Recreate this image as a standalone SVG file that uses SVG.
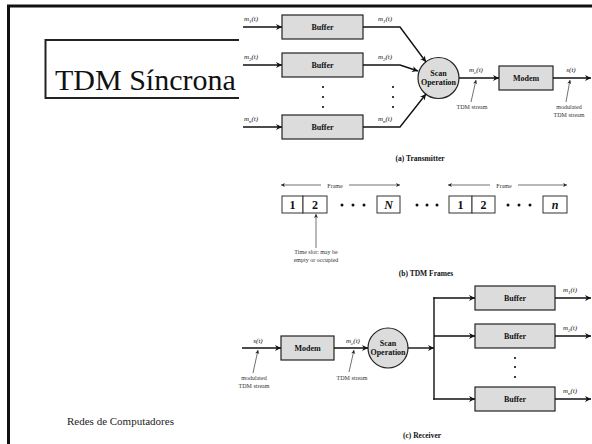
<svg xmlns="http://www.w3.org/2000/svg" width="592" height="444" viewBox="0 0 592 444">
<defs>
<marker id="ah" viewBox="0 0 10 10" refX="10" refY="5" markerWidth="8" markerHeight="6" markerUnits="userSpaceOnUse" orient="auto">
<path d="M0,0 L10,5 L0,10 L3,5 z" fill="#111"/>
</marker>
<marker id="ahs" viewBox="0 0 10 10" refX="10" refY="5" markerWidth="5" markerHeight="4" markerUnits="userSpaceOnUse" orient="auto-start-reverse">
<path d="M0,0 L10,5 L0,10 L3,5 z" fill="#222"/>
</marker>
</defs>
<style>
.box{fill:#dcdcdc;stroke:#222;stroke-width:1.2}
.slot{fill:#fff;stroke:#333;stroke-width:1}
.ln{fill:none;stroke:#111;stroke-width:1.4}
.arr{fill:none;stroke:#111;stroke-width:1.4;marker-end:url(#ah)}
.thin{fill:none;stroke:#333;stroke-width:0.7;marker-end:url(#ahs)}
.dbl{fill:none;stroke:#333;stroke-width:0.7}
.lbl{font-family:"Liberation Serif",serif;font-size:8px;font-weight:bold;fill:#111;text-anchor:middle}
.sig{font-family:"Liberation Serif",serif;font-size:7px;font-style:italic;fill:#111;text-anchor:middle}
.sm{font-family:"Liberation Serif",serif;font-size:6px;fill:#333;text-anchor:middle}
.cap{font-family:"Liberation Serif",serif;font-size:7.5px;font-weight:bold;fill:#111;text-anchor:middle}
.dig{font-family:"Liberation Serif",serif;font-size:12px;font-weight:bold;fill:#111;text-anchor:middle}
.dot{fill:#111}
</style>
<rect width="592" height="444" fill="#fff"/>
<!-- slide frame -->
<path d="M592,6 H8.5 V444" fill="none" stroke="#111" stroke-width="3"/>
<g id="title">
<path d="M239,40 H45.5 V98 H239" fill="none" stroke="#222" stroke-width="2"/>
<text x="55" y="90" font-family="Liberation Serif,serif" font-size="30" fill="#111">TDM Síncrona</text>
</g>
<text id="footer" x="67" y="425" font-family="Liberation Serif,serif" font-size="11" fill="#222">Redes de Computadores</text>

<!-- (a) Transmitter -->
<g id="tx-buffer1"><rect class="box" x="282" y="15" width="81" height="24"/><text class="lbl" x="322.5" y="30">Buffer</text></g>
<g id="tx-buffer2"><rect class="box" x="282" y="53" width="81" height="24"/><text class="lbl" x="322.5" y="68">Buffer</text></g>
<g id="tx-buffern"><rect class="box" x="282" y="115" width="81" height="24"/><text class="lbl" x="322.5" y="130">Buffer</text></g>
<g id="tx-scan"><circle cx="438.5" cy="78" r="20.5" fill="#dcdcdc" stroke="#222" stroke-width="1.2"/><text class="lbl" x="438.5" y="76">Scan</text><text class="lbl" x="438.5" y="85">Operation</text></g>
<g id="tx-modem"><rect class="box" x="499" y="66" width="54" height="24"/><text class="lbl" x="526" y="81">Modem</text></g>
<g id="tx-dots">
<circle class="dot" cx="323" cy="87" r="1.1"/><circle class="dot" cx="323" cy="97" r="1.1"/><circle class="dot" cx="323" cy="107" r="1.1"/>
<circle class="dot" cx="393" cy="87" r="1.1"/><circle class="dot" cx="393" cy="97" r="1.1"/><circle class="dot" cx="393" cy="107" r="1.1"/>
</g>
<g id="tx-connectors">
<line class="arr" x1="243" y1="27" x2="282" y2="27"/>
<line class="arr" x1="243" y1="65" x2="282" y2="65"/>
<line class="arr" x1="243" y1="127" x2="282" y2="127"/>
<polyline class="arr" points="363,27 400,27 426,62"/>
<polyline class="arr" points="363,65 400,65 418,71"/>
<polyline class="arr" points="363,127 400,127 426,94"/>
<line class="arr" x1="459" y1="78" x2="499" y2="78"/>
<line class="arr" x1="553" y1="78" x2="591" y2="78"/>
<line class="thin" x1="471" y1="102" x2="476" y2="80"/>
<line class="thin" x1="566" y1="102" x2="570" y2="80"/>
</g>
<g id="tx-labels">
<text class="sig" x="251" y="21">m<tspan font-size="5" dy="1.5">1</tspan><tspan dy="-1.5">(t)</tspan></text>
<text class="sig" x="251" y="59">m<tspan font-size="5" dy="1.5">2</tspan><tspan dy="-1.5">(t)</tspan></text>
<text class="sig" x="251" y="121">m<tspan font-size="5" dy="1.5">n</tspan><tspan dy="-1.5">(t)</tspan></text>
<text class="sig" x="385" y="21">m<tspan font-size="5" dy="1.5">1</tspan><tspan dy="-1.5">(t)</tspan></text>
<text class="sig" x="385" y="59">m<tspan font-size="5" dy="1.5">2</tspan><tspan dy="-1.5">(t)</tspan></text>
<text class="sig" x="385" y="121">m<tspan font-size="5" dy="1.5">n</tspan><tspan dy="-1.5">(t)</tspan></text>
<text class="sig" x="476" y="72">m<tspan font-size="5" dy="1.5">c</tspan><tspan dy="-1.5">(t)</tspan></text>
<text class="sig" x="571" y="72">s(t)</text>
<text class="sm" x="472" y="109">TDM stream</text>
<text class="sm" x="569" y="109">modulated</text>
<text class="sm" x="569" y="117">TDM stream</text>
<text class="cap" x="420" y="161">(a) Transmitter</text>
</g>

<!-- (b) TDM Frames -->
<g id="frames">
<line class="dbl" x1="281" y1="185" x2="321" y2="185" marker-start="url(#ahs)"/>
<line class="dbl" x1="349" y1="185" x2="400" y2="185" marker-end="url(#ahs)"/>
<text class="sm" x="335" y="187.5" font-size="7">Frame</text>
<line class="dbl" x1="448" y1="185" x2="490" y2="185" marker-start="url(#ahs)"/>
<line class="dbl" x1="518" y1="185" x2="567" y2="185" marker-end="url(#ahs)"/>
<text class="sm" x="504" y="187.5" font-size="7">Frame</text>
<rect class="slot" x="282" y="196" width="21" height="17"/><text class="dig" x="292.5" y="209">1</text>
<rect class="slot" x="303" y="196" width="24" height="17"/><text class="dig" x="315" y="209">2</text>
<rect class="slot" x="377" y="196" width="23" height="17"/><text class="dig" x="388.5" y="209" font-style="italic">N</text>
<rect class="slot" x="449" y="196" width="23" height="17"/><text class="dig" x="460.5" y="209">1</text>
<rect class="slot" x="472" y="196" width="23" height="17"/><text class="dig" x="483.5" y="209">2</text>
<rect class="slot" x="543" y="196" width="24" height="17"/><text class="dig" x="555" y="209" font-style="italic">n</text>
<circle class="dot" cx="342" cy="205" r="1.5"/><circle class="dot" cx="353" cy="205" r="1.5"/><circle class="dot" cx="364" cy="205" r="1.5"/>
<circle class="dot" cx="417" cy="205" r="1.5"/><circle class="dot" cx="427" cy="205" r="1.5"/><circle class="dot" cx="437" cy="205" r="1.5"/>
<circle class="dot" cx="508" cy="205" r="1.5"/><circle class="dot" cx="519" cy="205" r="1.5"/><circle class="dot" cx="530" cy="205" r="1.5"/>
<line class="thin" x1="316" y1="248" x2="316" y2="214"/>
<text class="sm" x="316" y="254">Time slot: may be</text>
<text class="sm" x="316" y="262">empty or occupied</text>
<text class="cap" x="426" y="276">(b) TDM Frames</text>
</g>

<!-- (c) Receiver -->
<g id="rx-modem"><rect class="box" x="281" y="336" width="53" height="24"/><text class="lbl" x="307.5" y="351">Modem</text></g>
<g id="rx-scan"><circle cx="388" cy="348" r="20" fill="#dcdcdc" stroke="#222" stroke-width="1.2"/><text class="lbl" x="388" y="346">Scan</text><text class="lbl" x="388" y="355">Operation</text></g>
<g id="rx-buffer1"><rect class="box" x="475" y="286" width="80" height="24"/><text class="lbl" x="515" y="301">Buffer</text></g>
<g id="rx-buffer2"><rect class="box" x="475" y="324" width="80" height="24"/><text class="lbl" x="515" y="339">Buffer</text></g>
<g id="rx-buffern"><rect class="box" x="475" y="387" width="80" height="24"/><text class="lbl" x="515" y="402">Buffer</text></g>
<g id="rx-dots"><circle class="dot" cx="515" cy="358" r="1.1"/><circle class="dot" cx="515" cy="367" r="1.1"/><circle class="dot" cx="515" cy="377" r="1.1"/></g>
<g id="rx-connectors">
<line class="arr" x1="242" y1="348" x2="281" y2="348"/>
<line class="arr" x1="334" y1="348" x2="368" y2="348"/>
<line class="arr" x1="408" y1="348" x2="434" y2="348"/>
<line class="ln" x1="434" y1="297.3" x2="434" y2="399.7"/>
<line class="arr" x1="433.3" y1="298" x2="475" y2="298"/>
<line class="arr" x1="434" y1="336" x2="475" y2="336"/>
<line class="arr" x1="433.3" y1="399" x2="475" y2="399"/>
<line class="arr" x1="555" y1="298" x2="591" y2="298"/>
<line class="arr" x1="555" y1="336" x2="591" y2="336"/>
<line class="arr" x1="555" y1="399" x2="591" y2="399"/>
<line class="thin" x1="253" y1="373" x2="258" y2="350"/>
<line class="thin" x1="349" y1="372" x2="354" y2="350"/>
</g>
<g id="rx-labels">
<text class="sig" x="258" y="343">s(t)</text>
<text class="sig" x="353" y="343">m<tspan font-size="5" dy="1.5">c</tspan><tspan dy="-1.5">(t)</tspan></text>
<text class="sm" x="254" y="380">modulated</text>
<text class="sm" x="254" y="388">TDM stream</text>
<text class="sm" x="352" y="380">TDM stream</text>
<text class="sig" x="570" y="292">m<tspan font-size="5" dy="1.5">1</tspan><tspan dy="-1.5">(t)</tspan></text>
<text class="sig" x="570" y="330">m<tspan font-size="5" dy="1.5">2</tspan><tspan dy="-1.5">(t)</tspan></text>
<text class="sig" x="570" y="393">m<tspan font-size="5" dy="1.5">n</tspan><tspan dy="-1.5">(t)</tspan></text>
<text class="cap" x="422" y="438">(c) Receiver</text>
</g>
</svg>
